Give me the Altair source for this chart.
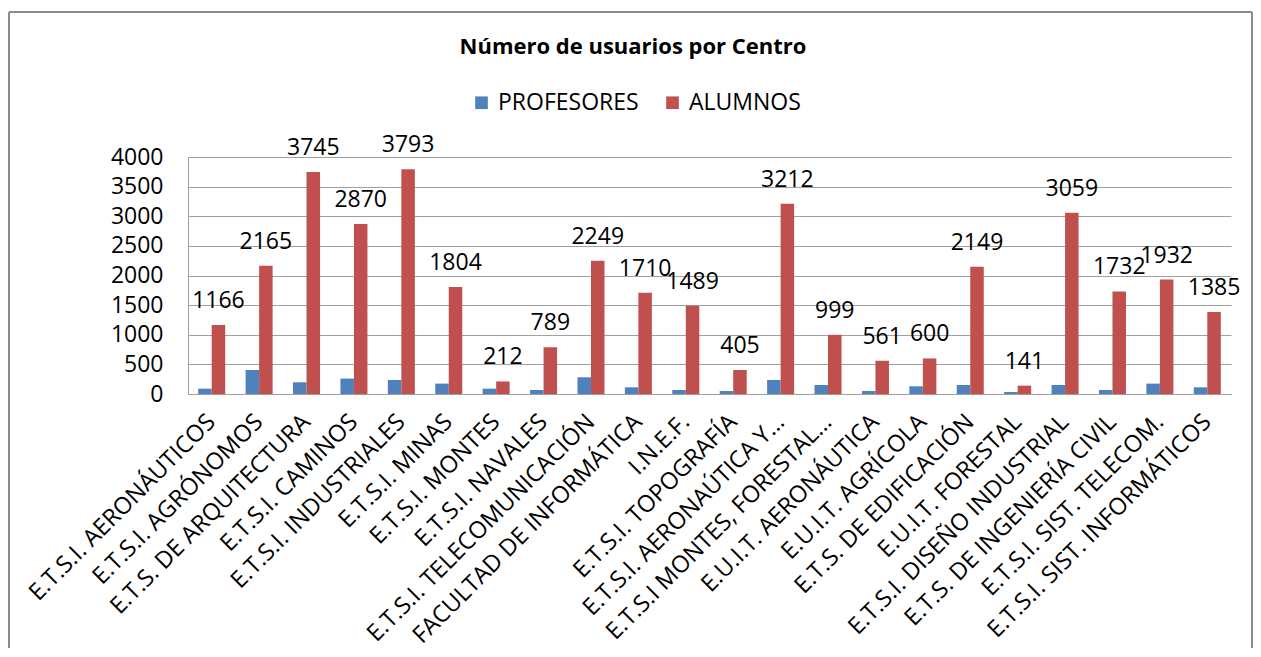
import altair as alt
import pandas as pd

categories = [
    "E.T.S.I. AERONÁUTICOS", "E.T.S.I. AGRÓNOMOS", "E.T.S. DE ARQUITECTURA",
    "E.T.S.I. CAMINOS", "E.T.S.I. INDUSTRIALES", "E.T.S.I. MINAS",
    "E.T.S.I. MONTES", "E.T.S.I. NAVALES", "E.T.S.I. TELECOMUNICACIÓN",
    "FACULTAD DE INFORMÁTICA", "I.N.E.F.", "E.T.S.I. TOPOGRAFÍA",
    "E.T.S.I. AERONAÚTICA Y…", "E.T.S.I MONTES, FORESTAL…", "E.U.I.T. AERONÁUTICA",
    "E.U.I.T. AGRÍCOLA", "E.T.S. DE EDIFICACIÓN", "E.U.I.T. FORESTAL",
    "E.T.S.I. DISEÑO INDUSTRIAL", "E.T.S. DE INGENIERÍA CIVIL",
    "E.T.S.I. SIST. TELECOM.", "E.T.S.I. SIST. INFORMÁTICOS",
]
profesores = [90, 405, 198, 260, 237, 175, 90, 68, 282, 113, 68,
              50, 237, 152, 50, 130, 152, 34, 152, 68, 175, 113]
alumnos = [1166, 2165, 3745, 2870, 3793, 1804, 212, 789, 2249, 1710, 1489,
           405, 3212, 999, 561, 600, 2149, 141, 3059, 1732, 1932, 1385]
series = ["PROFESORES", "ALUMNOS"]
colors = ["#4F81BD", "#C0504D"]
y_ticks = [0, 500, 1000, 1500, 2000, 2500, 3000, 3500, 4000]
title_text = "Número de usuarios  por Centro"

rows = []
for c, p, a in zip(categories, profesores, alumnos):
    rows.append({"centro": c, "serie": "PROFESORES", "valor": p})
    rows.append({"centro": c, "serie": "ALUMNOS", "valor": a})
df = pd.DataFrame(rows)

FONT = "Open Sans"
GRID = "#A0A0A0"
W, H = 1043, 237

x_enc = alt.X(
    "centro:N", sort=categories, title=None,
    scale=alt.Scale(paddingInner=0.43, paddingOuter=0.215),
    axis=alt.Axis(labelAngle=-45, labelAlign="right", labelBaseline="middle",
                  labelFontSize=23.5, labelFont=FONT, labelColor="#000000",
                  labelPadding=24, ticks=False, domainColor=GRID,
                  labelOverlap=False, labelLimit=400),
)
xoff_enc = alt.XOffset("serie:N", sort=series, scale=alt.Scale(domain=series))
y_enc = alt.Y(
    "valor:Q", title=None, scale=alt.Scale(domain=[0, 4000], nice=False),
    axis=alt.Axis(values=y_ticks, format="d", labelFontSize=23, labelFont=FONT,
                  labelColor="#000000", labelPadding=25, ticks=False,
                  domainColor=GRID, gridColor=GRID, grid=True),
)

base = alt.Chart(df)
bars = base.mark_bar().encode(
    x=x_enc, xOffset=xoff_enc, y=y_enc,
    color=alt.Color(
        "serie:N", sort=series,
        scale=alt.Scale(domain=series, range=colors),
        legend=alt.Legend(
            title=None, orient="none", legendX=282, legendY=-66,
            direction="horizontal", symbolType="square", symbolSize=160,
            symbolStrokeWidth=0, labelFontSize=23, labelFont=FONT,
            labelColor="#000000", labelOffset=5, columnPadding=22,
        ),
    ),
)
labels = base.transform_filter(alt.datum.serie == "ALUMNOS").mark_text(
    fontSize=23, font=FONT, color="#000000", baseline="alphabetic",
    align="center", dy=-17,
).encode(x=x_enc, xOffset=xoff_enc, y=y_enc, text=alt.Text("valor:Q", format="d"))

one = alt.Data(values=[{"k": 0}])
border_style = dict(color="#8C8C8C", strokeWidth=2)
left_rule = alt.Chart(one).mark_rule(**border_style).encode(
    x=alt.value(-179), y=alt.value(-145), y2=alt.value(491))
top_rule = alt.Chart(one).mark_rule(**border_style).encode(
    x=alt.value(-179), x2=alt.value(1064), y=alt.value(-145))
right_rule = alt.Chart(one).mark_rule(**border_style).encode(
    x=alt.value(1064), y=alt.value(-145), y2=alt.value(491))

title = alt.Chart(one).mark_text(
    fontSize=22, font=FONT, fontWeight="bold", color="#000000",
    align="center", baseline="middle",
).encode(x=alt.value(445), y=alt.value(-110), text=alt.value(title_text))

chart = alt.layer(left_rule, top_rule, right_rule, title, bars, labels).properties(
    width=W, height=H,
    padding={"left": 0, "top": 3, "right": 0, "bottom": 0},
    background="#FFFFFF",
).configure_view(stroke=None)

chart.save("out.html", embed_options={"renderer": "svg", "actions": False})
